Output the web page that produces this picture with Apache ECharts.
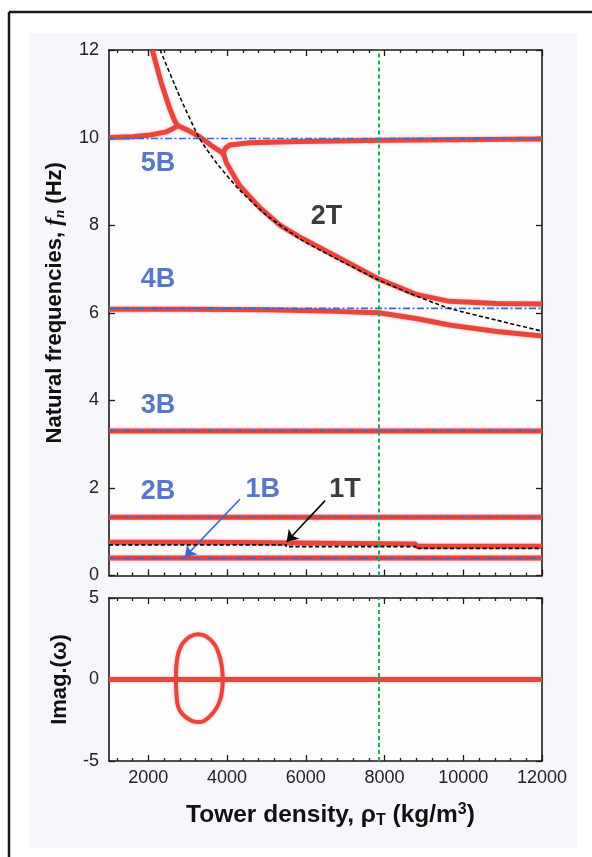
<!DOCTYPE html>
<html><head><meta charset="utf-8">
<script src="https://cdn.jsdelivr.net/npm/echarts@6/dist/echarts.min.js"></script>
<style>html,body{margin:0;padding:0;background:#fff}#c{width:592px;height:857px}</style>
</head><body><div id="c"></div>
<script>
// ---------------- data ----------------
const X_MIN = 1000, X_MAX = 12000;
const xMajorTicks = [2000, 4000, 6000, 8000, 10000, 12000];
const xMinorTicks = [1200, 1600, 2400, 2800, 3200, 3600, 4400, 4800, 5200, 5600, 6400, 6800,
                     7200, 7600, 8400, 8800, 9200, 9600, 10400, 10800, 11200, 11600];
const yTicksFreq = [0, 2, 4, 6, 8, 10, 12];
const yTicksImag = [-5, 0, 5];
const steelDensity = 7850;

// uncoupled bending modes (blue dash-dot)
const bendingNames = ['1B', '2B', '3B', '4B', '5B'];
const bendingFreq = [0.40, 1.33, 3.30, 6.10, 9.98];

// uncoupled torsion modes (black dashed)
const torsion1T_x = [1000, 5500, 5500, 8800, 8800, 12000];
const torsion1T_y = [0.70, 0.70, 0.66, 0.66, 0.62, 0.62];
const torsion2T_x = [2300, 2800, 3300, 3750, 4300, 5000, 5900, 6850, 7850, 8650, 9650, 10850, 12000];
const torsion2T_y = [12.0, 10.93, 9.98, 9.40, 8.82, 8.23, 7.66, 7.20, 6.75, 6.44, 6.10, 5.83, 5.58];

// coupled modes (red)
const coupledFlat_x = [1000, 12000];
const coupled1B_y = [0.40, 0.40];
const coupled2B_y = [1.33, 1.33];
const coupled3B_y = [3.30, 3.30];
const coupled1T_x = [1000, 3600, 3600, 8800, 8800, 12000];
const coupled1T_y = [0.76, 0.76, 0.72, 0.72, 0.67, 0.67];
const coupled4B_x = [1000, 3000, 5000, 6500, 7100, 7850, 8800, 9650, 10850, 12000];
const coupled4B_y = [6.08, 6.08, 6.07, 6.04, 6.02, 6.00, 5.87, 5.72, 5.57, 5.47];
const coupled5BLeft_x = [1000, 1600, 2050, 2450, 2630, 2750];
const coupled5BLeft_y = [10.00, 10.02, 10.06, 10.13, 10.21, 10.27];
const coupled2TLeft_x = [2100, 2320, 2540, 2670, 2750];
const coupled2TLeft_y = [12.0, 11.27, 10.67, 10.38, 10.27];
const coupledMerged_x = [2750, 3000, 3300, 3600, 3900];
const coupledMerged_y = [10.27, 10.17, 10.02, 9.82, 9.64];
const coupled5BRight_x = [3900, 3960, 4070, 4580, 5850, 8000, 12000];
const coupled5BRight_y = [9.64, 9.76, 9.83, 9.88, 9.91, 9.94, 9.97];
const coupled2TRight_x = [3900, 3990, 4320, 4830, 5340, 5900, 6850, 7850, 8800, 9650, 10850, 12000];
const coupled2TRight_y = [9.64, 9.41, 8.90, 8.40, 8.00, 7.70, 7.25, 6.77, 6.42, 6.26, 6.21, 6.20];

// imaginary part
const imagZero_x = [1000, 12000];
const imagZero_y = [0, 0];
const imagUpper_x = [2700, 2710, 2740, 2800, 2883, 3053, 3264, 3478, 3689, 3800, 3860, 3885, 3890];
const imagUpper_y = [0, 0.8, 1.4, 1.9, 2.25, 2.63, 2.78, 2.63, 2.12, 1.5, 0.9, 0.3, 0];
const imagLower_x = [2700, 2710, 2740, 2799, 2926, 3137, 3307, 3519, 3732, 3840, 3880, 3890];
const imagLower_y = [0, -0.8, -1.5, -1.9, -2.26, -2.57, -2.61, -2.36, -1.75, -1.1, -0.5, 0];

// annotations
const blueLabels = ['5B', '4B', '3B', '2B', '1B'];
const blueLabel_x = [2247, 2247, 2247, 2247, 4903];
const blueLabel_y = [9.40, 6.76, 3.89, 1.91, 1.97];
const blackLabels = ['2T', '1T'];
const blackLabel_x = [6523, 6996];
const blackLabel_y = [8.2, 1.97];
const arrow1B = [[4325, 1.74], [2926, 0.42]];
const arrow1T = [[6490, 1.71], [5513, 0.77]];

// ---------------- chart ----------------
const zip = (xs, ys) => xs.map((x, i) => [x, ys[i]]);
const RED = '#e8453d', BLUE = '#3a68cf', LABELBLUE = '#2f55b5', GREEN = '#1fae52', BLACK = '#0a0a0a';
const FONT = 'Liberation Sans';

function redLine(xs, ys, xi, yi, w) {
  return { type: 'line', xAxisIndex: xi, yAxisIndex: yi, data: zip(xs, ys), symbol: 'none', z: 2,
    lineStyle: { color: RED, width: w || 5, shadowColor: 'rgba(232,69,61,0.45)', shadowBlur: 3 }, silent: true };
}
function blueLine(f) {
  return { type: 'line', xAxisIndex: 0, yAxisIndex: 0, data: [[X_MIN, f], [X_MAX, f]], symbol: 'none', z: 4,
    lineStyle: { color: BLUE, width: 1.6, type: [7, 2.5, 2, 2.5] }, silent: true };
}
function blackDash(xs, ys) {
  return { type: 'line', xAxisIndex: 0, yAxisIndex: 0, data: zip(xs, ys), symbol: 'none', z: 5, smooth: 0.2,
    lineStyle: { color: BLACK, width: 1.6, type: [4, 2.5] }, silent: true };
}
function xAx(grid, pos, ticks, len, showLine, showLabels, name) {
  const a = {
    type: 'value', gridIndex: grid, position: pos, min: X_MIN, max: X_MAX,
    axisLine: { show: showLine, onZero: false, lineStyle: { color: '#1a1a1a', width: 1.6 } },
    axisTick: { show: true, inside: true, length: len, customValues: ticks, lineStyle: { color: '#1a1a1a', width: 1.3 } },
    axisLabel: { show: showLabels, customValues: xMajorTicks, formatter: v => String(v),
      fontFamily: FONT, fontSize: 18, color: '#222', margin: 8 },
    splitLine: { show: false }
  };
  if (name) {
    a.name = name; a.nameLocation = 'middle'; a.nameGap = 40;
    a.nameTextStyle = { fontFamily: FONT, fontSize: 24.5, fontWeight: 'bold', color: '#111', padding: [0, 0, 0, 10],
      rich: { sub: { fontFamily: FONT, fontSize: 16, fontWeight: 'bold', color: '#111', padding: [12, 0, 0, 0] },
              sup: { fontFamily: FONT, fontSize: 16, fontWeight: 'bold', color: '#111', padding: [0, 0, 10, 0] } } };
  }
  return a;
}
function yAx(grid, pos, min, max, ticks, showLabels, name, gap, pad) {
  const a = {
    type: 'value', gridIndex: grid, position: pos, min: min, max: max,
    axisLine: { show: true, onZero: false, lineStyle: { color: '#1a1a1a', width: 1.6 } },
    axisTick: { show: true, inside: true, length: 6, customValues: ticks, lineStyle: { color: '#1a1a1a', width: 1.3 } },
    axisLabel: { show: showLabels, customValues: ticks, formatter: v => String(v),
      fontFamily: FONT, fontSize: 18, color: '#222', margin: 10 },
    splitLine: { show: false }
  };
  if (name) {
    a.name = name; a.nameLocation = 'middle'; a.nameGap = gap;
    a.nameTextStyle = { fontFamily: FONT, fontSize: 22, fontWeight: 'bold', color: '#111', padding: pad || 0,
      rich: { it: { fontFamily: 'Liberation Serif', fontStyle: 'italic', fontSize: 23, fontWeight: 'bold', color: '#111' },
              sub: { fontFamily: 'Liberation Serif', fontStyle: 'italic', fontSize: 15, fontWeight: 'bold', color: '#111', padding: [12, 0, 0, 0] } } };
  }
  return a;
}

const series = [];
// red coupled, top plot
series.push(redLine(coupledFlat_x, coupled1B_y, 0, 0));
series.push(redLine(coupledFlat_x, coupled2B_y, 0, 0));
series.push(redLine(coupledFlat_x, coupled3B_y, 0, 0));
series.push(redLine(coupled1T_x, coupled1T_y, 0, 0));
series.push(redLine(coupled4B_x, coupled4B_y, 0, 0));
series.push(redLine(coupled5BLeft_x, coupled5BLeft_y, 0, 0));
series.push(redLine(coupled2TLeft_x, coupled2TLeft_y, 0, 0));
series.push(redLine(coupledMerged_x, coupledMerged_y, 0, 0));
series.push(redLine(coupled5BRight_x, coupled5BRight_y, 0, 0));
series.push(redLine(coupled2TRight_x, coupled2TRight_y, 0, 0));
// blue uncoupled bending
bendingFreq.forEach(f => series.push(blueLine(f)));
// black uncoupled torsion
series.push(blackDash(torsion1T_x, torsion1T_y));
series.push(blackDash(torsion2T_x, torsion2T_y));
// green + arrows on top plot
series.push({
  type: 'line', xAxisIndex: 0, yAxisIndex: 0, data: [], symbol: 'none', z: 6, silent: true,
  markLine: { silent: true, symbol: 'none', label: { show: false }, animation: false,
    lineStyle: { color: GREEN, width: 2, type: [4, 3] }, data: [{ xAxis: steelDensity }] }
});
series.push({
  type: 'line', xAxisIndex: 0, yAxisIndex: 0, data: [], symbol: 'none', z: 7, silent: true,
  markLine: { silent: true, symbol: ['none', 'arrow'], symbolSize: 11, label: { show: false }, animation: false,
    data: [
      [{ coord: arrow1B[0], lineStyle: { color: BLUE, width: 1.6, type: 'solid' }, itemStyle: { color: BLUE } }, { coord: arrow1B[1] }],
      [{ coord: arrow1T[0], lineStyle: { color: BLACK, width: 1.6, type: 'solid' }, itemStyle: { color: BLACK } }, { coord: arrow1T[1] }]
    ] }
});
// labels
series.push({
  type: 'scatter', xAxisIndex: 0, yAxisIndex: 0, symbolSize: 1, itemStyle: { color: 'rgba(0,0,0,0)' }, z: 8, silent: true,
  data: blueLabels.map((n, i) => ({ name: n, value: [blueLabel_x[i], blueLabel_y[i]] })),
  label: { show: true, position: 'inside', formatter: '{b}', fontFamily: FONT, fontWeight: 'bold', fontSize: 27, color: LABELBLUE }
});
series.push({
  type: 'scatter', xAxisIndex: 0, yAxisIndex: 0, symbolSize: 1, itemStyle: { color: 'rgba(0,0,0,0)' }, z: 8, silent: true,
  data: blackLabels.map((n, i) => ({ name: n, value: [blackLabel_x[i], blackLabel_y[i]] })),
  label: { show: true, position: 'inside', formatter: '{b}', fontFamily: FONT, fontWeight: 'bold', fontSize: 27, color: BLACK }
});
// bottom plot
series.push(redLine(imagZero_x, imagZero_y, 4, 2, 5));
series.push(Object.assign(redLine(imagUpper_x, imagUpper_y, 4, 2, 4), { smooth: 0.3 }));
series.push(Object.assign(redLine(imagLower_x, imagLower_y, 4, 2, 4), { smooth: 0.3 }));
series.push({
  type: 'line', xAxisIndex: 4, yAxisIndex: 2, data: [], symbol: 'none', z: 6, silent: true,
  markLine: { silent: true, symbol: 'none', label: { show: false }, animation: false,
    lineStyle: { color: GREEN, width: 2, type: [4, 3] }, data: [{ xAxis: steelDensity }] }
});

const option = {
  animation: false,
  backgroundColor: '#fff',
  graphic: [
    { type: 'rect', z: -10, shape: { x: 29, y: 33, width: 548, height: 815 }, style: { fill: '#f6f7fa' } },
    { type: 'line', z: 10, shape: { x1: 9, y1: 12, x2: 592, y2: 12 }, style: { stroke: '#1a1a1a', lineWidth: 2.5 } },
    { type: 'line', z: 10, shape: { x1: 9, y1: 12, x2: 9, y2: 857 }, style: { stroke: '#1a1a1a', lineWidth: 2.5 } }
  ],
  grid: [
    { left: 109, right: 50, top: 50, height: 525.5, show: true, backgroundColor: '#fdfdfe', borderWidth: 0 },
    { left: 109, right: 50, top: 598, height: 163, show: true, backgroundColor: '#fdfdfe', borderWidth: 0 }
  ],
  xAxis: [
    xAx(0, 'bottom', xMajorTicks, 6, true, false),
    xAx(0, 'bottom', xMinorTicks, 3, false, false),
    xAx(0, 'top', xMajorTicks, 6, true, false),
    xAx(0, 'top', xMinorTicks, 3, false, false),
    xAx(1, 'bottom', xMajorTicks, 6, true, true, 'Tower density, ρ{sub|T} (kg/m{sup|3})'),
    xAx(1, 'bottom', xMinorTicks, 3, false, false),
    xAx(1, 'top', xMajorTicks, 6, true, false),
    xAx(1, 'top', xMinorTicks, 3, false, false)
  ],
  yAxis: [
    yAx(0, 'left', 0, 12, yTicksFreq, true, 'Natural frequencies, {it|f}{sub|n} (Hz)', 36, [0, 0, 0, 20]),
    yAx(0, 'right', 0, 12, yTicksFreq, false),
    yAx(1, 'left', -5, 5, yTicksImag, true, 'Imag.(ω)', 38),
    yAx(1, 'right', -5, 5, yTicksImag, false)
  ],
  series: series
};
const chart = echarts.init(document.getElementById('c'), null, { renderer: 'canvas' });
chart.setOption(option);
</script>
</body></html>
